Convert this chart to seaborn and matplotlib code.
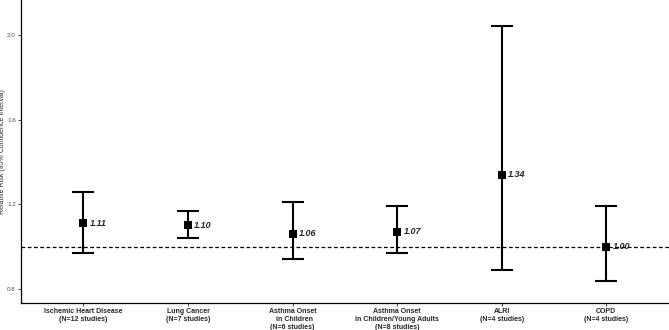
import numpy as np
import pandas as pd
import seaborn as sns
import matplotlib.pyplot as plt

#______Data______
outcomes = ["Ischemic Heart Disease\n(N=12 studies)",
            "Lung Cancer\n(N=7 studies)",
            "Asthma Onset\n  in Children\n(N=6 studies)",
            "Asthma Onset\nin Children/Young Adults\n(N=8 studies)",
            "ALRI\n(N=4 studies)",
            "COPD\n(N=4 studies)"]
rr = [1.11, 1.10, 1.06, 1.07, 1.34, 1.00]
lower = [0.97, 1.04, 0.94, 0.97, 0.89, 0.84]
upper = [1.26, 1.17, 1.21, 1.19, 2.04, 1.19]
yticks = [0.8, 1.2, 1.6, 2.0]

df = pd.DataFrame({"Outcome": outcomes, "RR": rr, "Lower": lower, "Upper": upper})
df["pos"] = np.arange(len(df))

sns.set_style("white")
plt.rcParams['font.family'] = ['Liberation Sans', 'DejaVu Sans']

fig = plt.figure(figsize=(6.69, 3.30), dpi=100)
ax = fig.add_axes([0.031, 0.082, 0.969, 0.918])

#______Reference line + error bars______
ax.axhline(1.0, color='black', linestyle=(0, (3, 2)), linewidth=0.9, zorder=1)
ax.errorbar(df["pos"], df["RR"],
            yerr=[df["RR"] - df["Lower"], df["Upper"] - df["RR"]],
            fmt='none', ecolor='black', elinewidth=1.5, capsize=7.6,
            capthick=1.5, zorder=2)
sns.scatterplot(data=df, x="pos", y="RR", marker='s', s=36, color='black',
                edgecolor='black', linewidth=0, ax=ax, zorder=3, legend=False)

for p, v in zip(df["pos"], df["RR"]):
    ax.text(p + 0.06, v, f"{v:.2f}", fontsize=6.5, fontstyle='italic',
            fontweight='bold', va='center', ha='left')

ax.set_xlim(-0.6, 5.6)
ax.set_ylim(0.734, 2.165)
ax.set_xticks(df["pos"])
ax.set_xticklabels(outcomes, fontsize=5, fontweight='bold', ha='center')
ax.set_yticks(yticks)
ax.set_yticklabels([f"{t:.1f}" for t in yticks], fontsize=4.5, color='#4d4d4d')
ax.set_xlabel("")
ax.set_ylabel("Relative Risk (95% Confidence Interval)", fontsize=5, labelpad=1)
ax.tick_params(axis='both', length=2, width=0.6, pad=1.5, bottom=True, left=True)

sns.despine(ax=ax)
for s in ["left", "bottom"]:
    ax.spines[s].set_linewidth(0.9)
    ax.spines[s].set_color('black')

fig.savefig("out.png", dpi=100)
